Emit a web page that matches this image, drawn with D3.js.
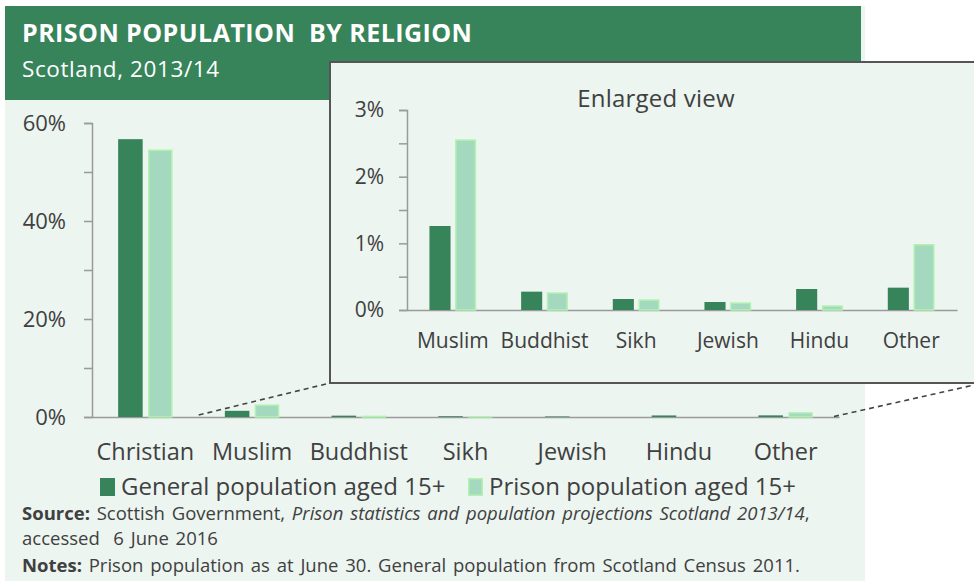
<!DOCTYPE html>
<html><head><meta charset="utf-8">
<script src="https://cdn.jsdelivr.net/npm/d3@7"></script>
<style>
html,body{margin:0;padding:0;background:#fff;}
svg{display:block;font-family:"Open Sans",sans-serif;}
</style></head>
<body>
<svg id="c" width="974" height="581"></svg>
<script>
const categories = ["Christian","Muslim","Buddhist","Sikh","Jewish","Hindu","Other"];
const generalPop = [56.7, 1.26, 0.275, 0.165, 0.12, 0.315, 0.335];
const prisonPop  = [54.6, 2.56, 0.265, 0.16, 0.115, 0.07, 0.99];
const insetCategories = categories.slice(1);
const mainTicks = [0,10,20,30,40,50,60];
const mainTickLabels = ["0%","","20%","","40%","","60%"];
const insetTicks = [0,0.5,1,1.5,2,2.5,3];
const insetTickLabels = ["0%","","1%","","2%","","3%"];
const seriesNames = ["General population aged 15+","Prison population aged 15+"];

const DARK = "#37845b", LIGHT = "#a4d9bf", LIGHT_STROKE = "#b0f2ae";
const BG = "#ecf5f0", TXT = "#404040", AX = "#9a9a9a";

const svg = d3.select("#c");

// panel background + header
svg.append("rect").attr("x",5).attr("y",6).attr("width",860).attr("height",575).attr("fill",BG);
svg.append("rect").attr("x",5).attr("y",6).attr("width",856).attr("height",94).attr("fill","#37845b");
svg.append("text").attr("x",22).attr("y",42).attr("fill","#fff").attr("font-size",25).attr("font-weight",700)
  .attr("letter-spacing",0.45).attr("xml:space","preserve").text("PRISON POPULATION  BY RELIGION");
svg.append("text").attr("x",22).attr("y",77).attr("fill","#fff").attr("font-size",22.5).attr("letter-spacing",0.6)
  .text("Scotland, 2013/14");

function drawChart(g, cats, gen, pri, xr, yr, ydom, ticks, tickLabels, fs, cfs, pad, tickPad) {
  const x = d3.scaleBand().domain(cats).range(xr);
  const y = d3.scaleLinear().domain(ydom).range(yr);
  const bw = x.bandwidth();
  const barW = bw*0.23, gap = bw*0.05;
  const off = (bw - 2*barW - gap)/2;
  const ya = g.append("g").attr("transform",`translate(${xr[0]},0)`)
    .call(d3.axisLeft(y).tickValues(ticks).tickSize(8).tickFormat((d,i)=>tickLabels[i]).tickPadding(tickPad));
  ya.select(".domain").attr("stroke",AX).attr("stroke-width",1.5);
  ya.selectAll(".tick line").attr("stroke",AX).attr("stroke-width",1.5);
  ya.selectAll(".tick text").attr("fill",TXT).attr("font-size",fs).attr("font-family","Open Sans");
  const xa = g.append("g").attr("transform",`translate(0,${yr[0]})`)
    .call(d3.axisBottom(x).tickSize(0).tickPadding(pad));
  xa.select(".domain").attr("stroke",AX).attr("stroke-width",1.5);
  xa.selectAll(".tick text").attr("fill",TXT).attr("font-size",cfs).attr("font-family","Open Sans");
  g.selectAll(".gb").data(cats).enter().append("rect")
    .attr("x",d=>x(d)+off).attr("width",barW)
    .attr("y",(d,i)=>y(gen[i])).attr("height",(d,i)=>y(0)-y(gen[i])).attr("fill",DARK);
  g.selectAll(".pb").data(cats).enter().append("rect")
    .attr("x",d=>x(d)+off+barW+gap+0.75).attr("width",barW-1.5)
    .attr("y",(d,i)=>y(pri[i])+0.75).attr("height",(d,i)=>Math.max(0,y(0)-y(pri[i])-0.75))
    .attr("fill",LIGHT).attr("stroke",LIGHT_STROKE).attr("stroke-width",1.5);
  return {x,y};
}

// main chart
const mainG = svg.append("g");
const m = drawChart(mainG, categories, generalPop, prisonPop, [92,839], [417,123], [0,60], mainTicks, mainTickLabels, 22, 23.5, 26, 18);

// dashed connector lines
const inset = {x0:330, y0:62, x1:983, y1:383};
svg.append("line").attr("x1",m.x("Muslim")).attr("y1",415).attr("x2",inset.x0).attr("y2",inset.y1)
  .attr("stroke","#444").attr("stroke-width",1.6).attr("stroke-dasharray","5,4");
svg.append("line").attr("x1",m.x.range()[1]-5).attr("y1",416.5).attr("x2",inset.x1).attr("y2",inset.y1)
  .attr("stroke","#444").attr("stroke-width",1.6).attr("stroke-dasharray","5,4");

// inset
svg.append("rect").attr("x",inset.x0).attr("y",inset.y0).attr("width",inset.x1-inset.x0).attr("height",inset.y1-inset.y0)
  .attr("fill",BG).attr("stroke","#555").attr("stroke-width",2);
svg.append("text").attr("x",656).attr("y",107).attr("text-anchor","middle").attr("fill",TXT).attr("font-size",24)
  .attr("letter-spacing","0.2").text("Enlarged view");
const insG = svg.append("g");
drawChart(insG, insetCategories, generalPop.slice(1), prisonPop.slice(1), [407,957], [310,110], [0,3], insetTicks, insetTickLabels, 21, 21, 23, 15);

// legend
const leg = svg.append("g").attr("font-size",24).attr("fill",TXT);
leg.append("rect").attr("x",100).attr("y",478).attr("width",15).attr("height",18).attr("fill",DARK);
leg.append("text").attr("x",121).attr("y",495).attr("fill",TXT).text(seriesNames[0]);
leg.append("rect").attr("x",468.75).attr("y",478.75).attr("width",13.5).attr("height",16.5).attr("fill",LIGHT)
  .attr("stroke",LIGHT_STROKE).attr("stroke-width",1.5);
leg.append("text").attr("x",489).attr("y",495).attr("fill",TXT).text(seriesNames[1]);

// source & notes
const src = svg.append("g").attr("font-size",18.5).attr("fill",TXT).attr("word-spacing",2);
const t1 = src.append("text").attr("x",22).attr("y",520);
t1.append("tspan").attr("font-weight",700).text("Source:");
t1.append("tspan").text(" Scottish Government, ");
t1.append("tspan").attr("font-style","italic").text("Prison statistics and population projections Scotland 2013/14");
t1.append("tspan").text(",");
src.append("text").attr("x",22).attr("y",545).attr("xml:space","preserve").text("accessed  6 June 2016");
const t3 = src.append("text").attr("x",22).attr("y",572);
t3.append("tspan").attr("font-weight",700).text("Notes:");
t3.append("tspan").text(" Prison population as at June 30. General population from Scotland Census 2011.");
</script>
</body></html>
